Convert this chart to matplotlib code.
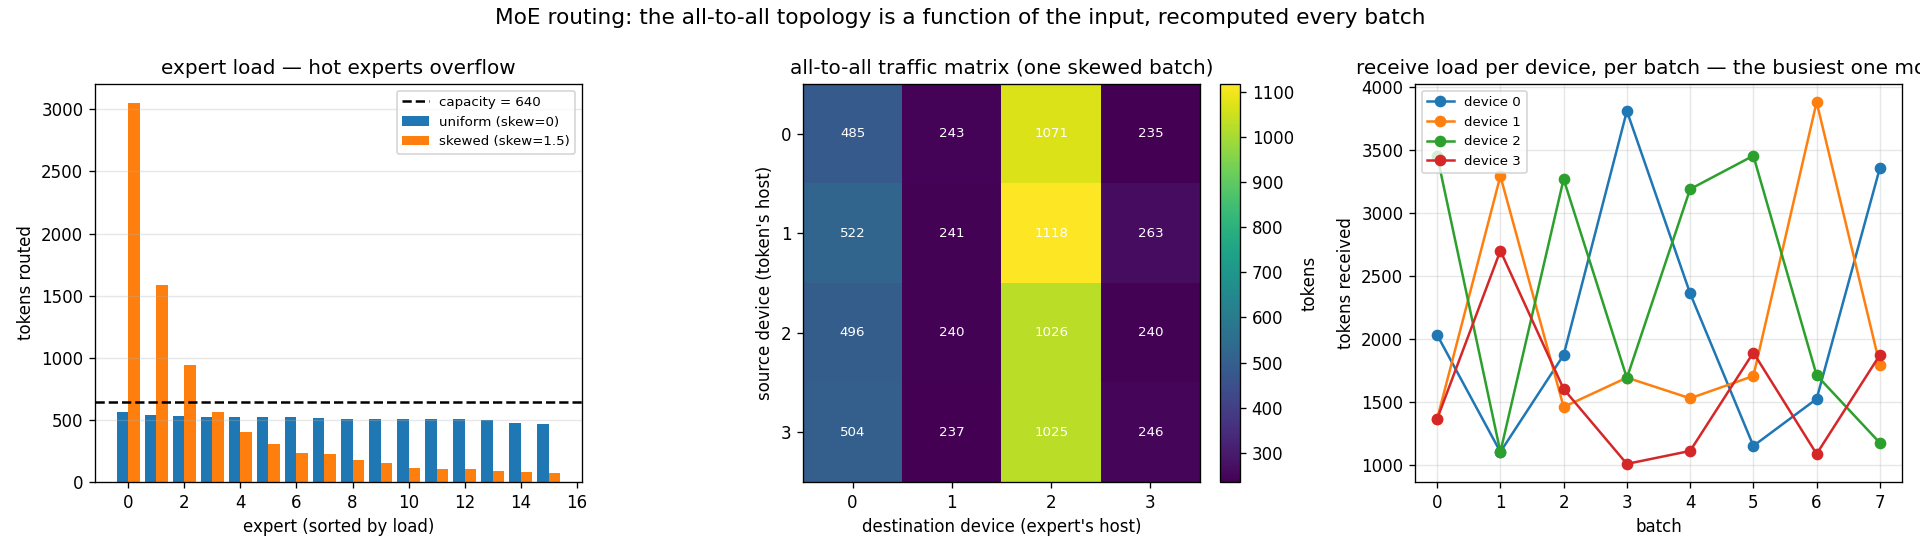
import numpy as np
import matplotlib
matplotlib.use("Agg")
from matplotlib import pyplot as plt

# expert load, sorted by load (16 experts)
experts = list(range(16))
load_uniform = [560, 541, 533, 525, 525, 525, 525, 517, 509, 509, 509, 509, 509, 496, 477, 469]
load_skewed = [3051, 1587, 944, 566, 405, 308, 236, 228, 180, 155, 115, 107, 107, 91, 83, 75]
capacity = 640

# all-to-all traffic matrix (source rows, destination cols)
devices = [0, 1, 2, 3]
traffic = [
    [485, 243, 1071, 235],
    [522, 241, 1118, 263],
    [496, 240, 1026, 240],
    [504, 237, 1025, 246],
]

# receive load per device per batch
batches = list(range(8))
recv_dev0 = [2032, 1103, 1873, 3810, 2362, 1151, 1524, 3357]
recv_dev1 = [1365, 3294, 1460, 1693, 1529, 1706, 3881, 1794]
recv_dev2 = [3455, 1103, 3270, 1690, 3190, 3455, 1712, 1175]
recv_dev3 = [1365, 2701, 1603, 1008, 1111, 1892, 1087, 1873]
recv_all = [recv_dev0, recv_dev1, recv_dev2, recv_dev3]

W, H = 1920, 552
fig = plt.figure(figsize=(16, 4.6), dpi=120)


def box(x0, y0, x1, y1):
    # pixel box -> figure fraction [left, bottom, width, height]
    return [x0 / W, 1 - y1 / H, (x1 - x0) / W, (y1 - y0) / H]


ax0 = fig.add_axes(box(95, 84, 582, 482))
ax1 = fig.add_axes(box(803, 84, 1200, 482))
cax = fig.add_axes(box(1220, 84, 1240, 482))
ax2 = fig.add_axes(box(1415, 84, 1902, 482))

# --- panel 1: expert load
x = np.array(experts)
w = 0.4
ax0.bar(x - w / 2, load_uniform, w, label="uniform (skew=0)", color="tab:blue")
ax0.bar(x + w / 2, load_skewed, w, label="skewed (skew=1.5)", color="tab:orange")
ax0.axhline(capacity, color="k", ls="--", lw=1.5, label=f"capacity = {capacity}")
ax0.set_xlabel("expert (sorted by load)")
ax0.set_ylabel("tokens routed")
ax0.set_title("expert load — hot experts overflow")
ax0.grid(axis="y", alpha=0.3)
ax0.legend(fontsize=8)

# --- panel 2: traffic heatmap
tm = np.array(traffic)
im = ax1.imshow(tm, cmap="viridis", aspect="auto")
for i in range(len(devices)):
    for j in range(len(devices)):
        ax1.text(j, i, str(tm[i, j]), ha="center", va="center", color="white", fontsize=8)
ax1.set_xticks(devices)
ax1.set_yticks(devices)
ax1.set_xlabel("destination device (expert's host)")
ax1.set_ylabel("source device (token's host)")
ax1.set_title("all-to-all traffic matrix (one skewed batch)")
cb = fig.colorbar(im, cax=cax)
cb.set_label("tokens")

# --- panel 3: receive load per batch
for d, vals in zip(devices, recv_all):
    ax2.plot(batches, vals, marker="o", label=f"device {d}")
ax2.set_xlabel("batch")
ax2.set_ylabel("tokens received")
ax2.set_title("receive load per device, per batch — the busiest one moves")
ax2.grid(alpha=0.3)
ax2.legend(fontsize=8, loc="upper left")

fig.suptitle("MoE routing: the all-to-all topology is a function of the input, recomputed every batch",
             fontsize=13, y=0.985)

fig.savefig("out.png", dpi=120)
